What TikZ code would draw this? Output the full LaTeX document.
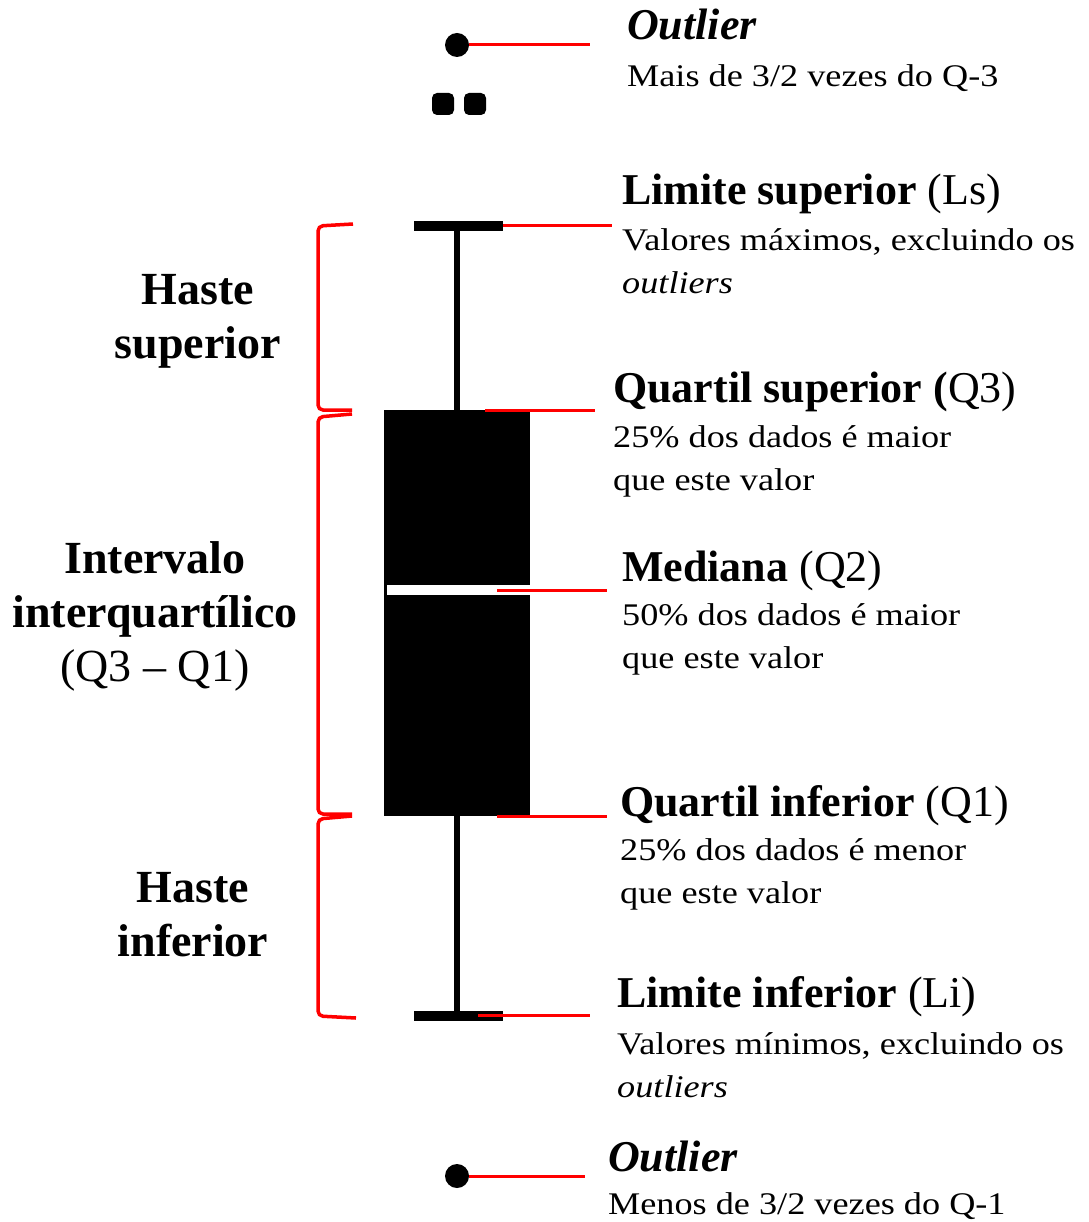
\documentclass[tikz,border=0pt]{standalone}
\usepackage{fontspec}
\setmainfont{Liberation Serif}
\newfontfamily\bodyfont[FakeStretch=1.15]{Liberation Serif}
\begin{document}
\begin{tikzpicture}[x=1pt,y=-1pt,
  redline/.style={draw=red,line width=3pt},
  brace/.style={draw=red,line width=3.5pt,rounded corners=5pt},
  blk/.style={draw=black,line width=6pt},
  capbar/.style={draw=black,line width=10pt},
  head/.style={anchor=base west,inner sep=0pt,font=\fontsize{44}{50}\selectfont},
  body/.style={anchor=base west,inner sep=0pt,align=left,font=\bodyfont\fontsize{31.5}{43}\selectfont},
  lab/.style={anchor=base,inner sep=0pt,align=center,font=\fontsize{46}{54}\selectfont\bfseries}]
\useasboundingbox (0,0) rectangle (1088,1222);
% box
\node[fill=black,minimum width=146pt,minimum height=406pt,inner sep=0pt,anchor=north west] (box) at (384,410) {};
\draw[white,line width=10pt] (387,590) -- (530,590);
% whiskers and caps
\coordinate (ucap) at (457,226);
\coordinate (lcap) at (457,1016);
\draw[blk] (box.north -| ucap) -- (ucap);
\draw[blk] (box.south -| lcap) -- (lcap);
\draw[capbar] (414,226) -- (503,226);
\draw[capbar] (414,1016) -- (503,1016);
% outliers
\node[circle,fill=black,minimum size=24pt,inner sep=0pt] (o1) at (457,45) {};
\node[rounded corners=5pt,fill=black,minimum size=22pt,inner sep=0pt] (o2) at (443,104) {};
\node[rounded corners=5pt,fill=black,minimum size=22pt,inner sep=0pt] (o3) at (475,104) {};
\node[circle,fill=black,minimum size=24pt,inner sep=0pt] (o4) at (457,1176) {};
% red leader lines
\coordinate (e1) at (590,45);
\draw[redline] (o1.east) -- (e1);
\coordinate (lsA) at (503,226); \coordinate (lsB) at (612,226);
\draw[redline] (lsA) -- (lsB);
\coordinate (q3A) at (485,410); \coordinate (q3B) at (595,410);
\draw[redline] (q3A) -- (q3B);
\coordinate (q2A) at (497,590); \coordinate (q2B) at (607,590);
\draw[redline] (q2A) -- (q2B);
\coordinate (q1A) at (497,816); \coordinate (q1B) at (607,816);
\draw[redline] (q1A) -- (q1B);
\coordinate (liA) at (478,1015); \coordinate (liB) at (590,1015);
\draw[redline] (liA) -- (liB);
\coordinate (e4) at (585,1176);
\draw[redline] (o4.east) -- (e4);
% brackets
\draw[brace] (353,224) -- (318,226) -- (318,410) -- (352,410);
\draw[brace] (352,414) -- (318,417) -- (318,814) -- (352,814);
\draw[brace] (352,816) -- (318,819) -- (318,1016) -- (356,1018);
% left labels (anchor = baseline of last line)
\node[lab] (hs) at (198,358) {Haste\\superior};
\node[lab] (iq) at (155,681) {Intervalo\\interquartílico\\\mdseries(Q3 – Q1)};
\node[lab] (hi) at (193,956) {Haste\\inferior};
% right labels
\node[head] (t1) at (627,40) {\bfseries\itshape Outlier};
\node[body] (t1b) at (627,87) {Mais de 3/2 vezes do Q-3};
\node[head] (t2) at (622,205) {\bfseries Limite superior \mdseries(Ls)};
\node[body] (t2b) at (622,294) {Valores máximos, excluindo os\\\itshape outliers};
\node[head] (t3) at (613,402) {\bfseries Quartil superior (\mdseries Q3)};
\node[body] (t3b) at (613,490) {25\% dos dados é maior\\que este valor};
\node[head] (t4) at (622,581) {\bfseries Mediana \mdseries(Q2)};
\node[body] (t4b) at (622,668) {50\% dos dados é maior\\que este valor};
\node[head] (t5) at (620,816) {\bfseries Quartil inferior \mdseries(Q1)};
\node[body] (t5b) at (620,903) {25\% dos dados é menor\\que este valor};
\node[head] (t6) at (617,1007) {\bfseries Limite inferior \mdseries(Li)};
\node[body] (t6b) at (617,1097) {Valores mínimos, excluindo os\\\itshape outliers};
\node[head] (t7) at (608,1171) {\bfseries\itshape Outlier};
\node[body] (t7b) at (608,1214) {Menos de 3/2 vezes do Q-1};
\end{tikzpicture}
\end{document}
